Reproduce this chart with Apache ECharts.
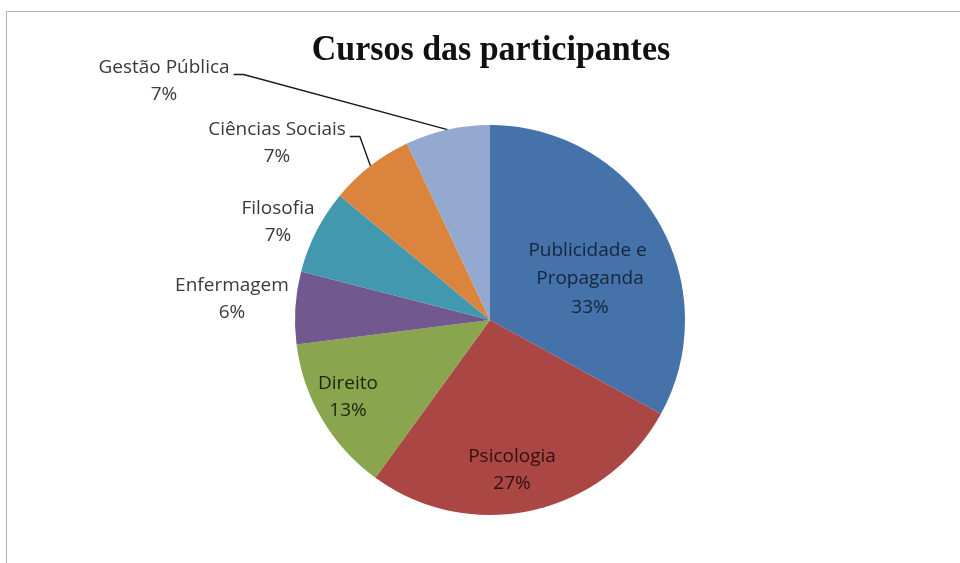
<!DOCTYPE html>
<html>
<head>
<meta charset="utf-8">
<script src="https://cdn.jsdelivr.net/npm/echarts@6/dist/echarts.min.js"></script>
<style>html,body{margin:0;padding:0;background:#fff;}#c{width:960px;height:563px;}</style>
</head>
<body>
<div id="c"></div>
<script>
const titleText = 'Cursos das participantes';
const categories = ['Publicidade e Propaganda', 'Psicologia', 'Direito', 'Enfermagem', 'Filosofia', 'Ciências Sociais', 'Gestão Pública'];
const values = [33, 27, 13, 6, 7, 7, 7];
const colors = ['#4572A8', '#AA4643', '#89A54E', '#71588F', '#4198AF', '#DB843D', '#93A9CF'];

// label placement (text centres) and style per slice
const labelPos = [[590, 279], [512, 470], [348, 397], [232, 299], [278, 222], [277, 143], [164, 81]];
const labelInside = [true, true, true, false, false, false, false];
const labelLeader = [false, false, false, false, false, true, true];
const labelColors = ['#16253d', '#2e1212', '#1c260e', '#3a3a3a', '#3a3a3a', '#3a3a3a', '#3a3a3a'];
const LH = 27;

const chart = echarts.init(document.getElementById('c'), null, {renderer: 'canvas'});

const data = categories.map((n, i) => ({
  name: n,
  value: values[i],
  itemStyle: {color: colors[i]},
  label: {
    position: labelInside[i] ? 'inside' : 'outside',
    color: labelColors[i],
    lineHeight: i === 0 ? 28.5 : LH,
    width: i === 0 ? 150 : undefined,
    overflow: i === 0 ? 'break' : 'none'
  },
  labelLine: {show: labelLeader[i]}
}));

chart.setOption({
  animation: false,
  backgroundColor: '#ffffff',
  graphic: [{
    type: 'rect',
    shape: {x: 6.5, y: 11.5, width: 1200, height: 1200},
    style: {fill: 'none', stroke: '#b4b4b4', lineWidth: 1},
    silent: true, z: -1
  }, {
    type: 'text',
    x: 491, y: 33,
    scaleX: 0.97,
    style: {
      text: titleText,
      fontFamily: 'Liberation Serif', fontWeight: 'bold', fontSize: 35,
      fill: '#111', textAlign: 'center', textVerticalAlign: 'top'
    },
    silent: true
  }],
  series: [{
    type: 'pie',
    center: [490, 320],
    radius: 195,
    startAngle: 90,
    clockwise: true,
    percentPrecision: 0,
    avoidLabelOverlap: false,
    itemStyle: {borderWidth: 0},
    label: {
      show: true,
      formatter: '{b}\n{d}%',
      fontFamily: 'Open Sans',
      fontSize: 19,
      lineHeight: LH,
      align: 'center'
    },
    labelLine: {show: true, length: 10, length2: 10, lineStyle: {color: '#1a1a1a', width: 1.4}},
    labelLayout: function (p) {
      const i = p.dataIndex;
      const x = labelPos[i][0], y = labelPos[i][1];
      const res = {x: x, y: y, align: 'center', verticalAlign: 'middle'};
      if (labelLeader[i] && p.labelLinePoints) {
        const anchor = p.labelLinePoints[0];
        const right = x + p.labelRect.width / 2;
        const ly = y - p.labelRect.height / 2 + LH / 2 + 7;
        res.labelLinePoints = [[anchor[0], anchor[1]], [right + 14, ly], [right + 4, ly]];
      }
      return res;
    },
    data: data
  }]
});
</script>
</body>
</html>
